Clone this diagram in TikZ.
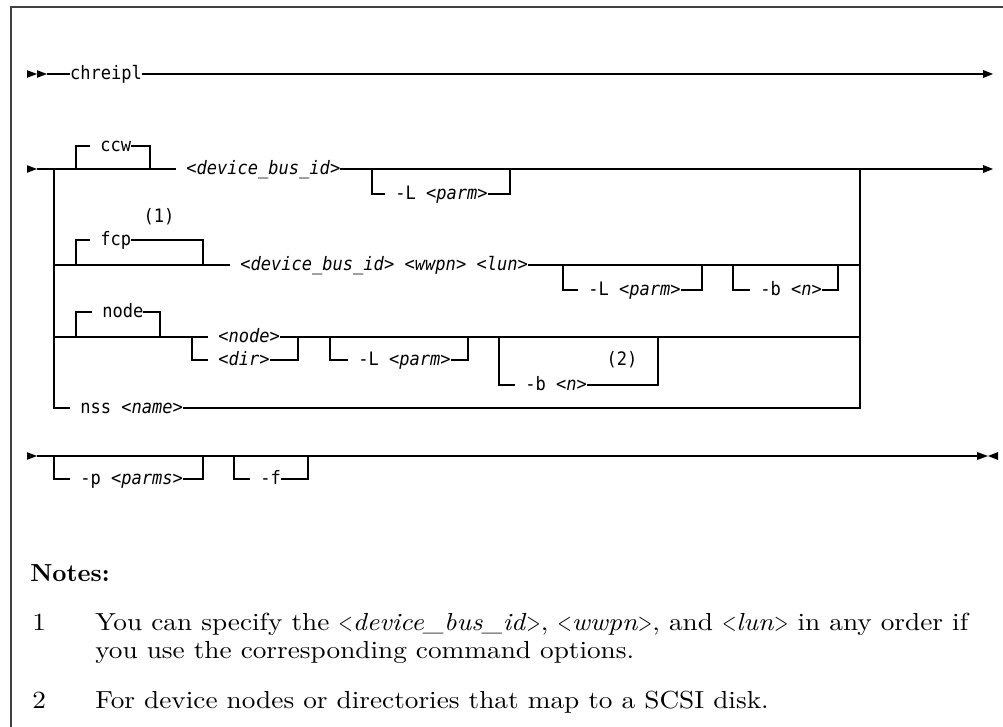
\documentclass[tikz,border=0pt]{standalone}
\usepackage{graphicx}
\usepackage{fontspec}
\newfontfamily\dgfont[FakeStretch=0.92]{DejaVu Sans Mono}
\newfontfamily\notefont[Extension=.otf, FakeStretch=1.105, ItalicFont=lmroman10-italic, BoldFont=lmroman10-bold]{lmroman10-regular}
\newfontfamily\notebf[Extension=.otf]{lmroman10-bold}
\newcommand\nlt{\scalebox{0.68}[1]{<}}
\newcommand\ngt{\scalebox{0.68}[1]{>}}
\begin{document}
\begin{tikzpicture}[x=0.75pt,y=-0.75pt,
  ln/.style={line width=1pt},
  frame/.style={line width=1.2pt,draw=black!75},
  dg/.style={font=\dgfont\fontsize{13.9pt}{16pt}\selectfont, inner sep=0pt, outer sep=0pt, text height=11pt, text depth=3pt, anchor=west},
  nt/.style={font=\notefont\fontsize{18.5pt}{22pt}\selectfont, inner sep=0pt, anchor=base west},
  ntb/.style={font=\notebf\fontsize{18.5pt}{22pt}\selectfont, inner sep=0pt, anchor=base west}]
\useasboundingbox (0,0) rectangle (1003,727);
\draw[frame] (11,727) -- (11,7) -- (1003,7);

% ---------- line 1
\fill (27,70.2) -- (37,74) -- (27,77.8) -- cycle;
\fill (37,70.2) -- (47,74) -- (37,77.8) -- cycle;
\node[dg] (chreipl) at (70,74) {chreipl};
\coordinate (e1) at (983,74);
\draw[ln] (47,74) -- (chreipl.west);
\draw[ln] (chreipl.east) -- (e1);
\fill (983,70) -- (993,74) -- (983,78) -- cycle;

% ---------- line 2 : ccw
\fill (27,165.2) -- (37,169) -- (27,172.8) -- cycle;
\node[dg] (dev1) at (176,169) {\ <\textit{device\_bus\_id}>};
\draw[ln] (37,169) -- (dev1.west);
\draw[ln] (dev1.east) -- (983,169);
\fill (983,165) -- (993,169) -- (983,173) -- cycle;
\node[dg] (ccw) at (90,146) {\ ccw};
\draw[ln] (76,169) -- (76,146) -- (ccw.west);
\draw[ln] (ccw.east) -- (150,146) -- (150,169);
\node[dg] (L1) at (385,194) {\ -L <\textit{parm}>};
\draw[ln] (372,169) -- (372,194) -- (L1.west);
\draw[ln] (L1.east) -- (510,194) -- (510,169);

% ---------- fcp
\node[dg,anchor=center] (n1) at (159,217) {(1)};
\node[dg] (fcp) at (90,240) {\ fcp};
\node[dg] (dev2) at (230,265) {\ <\textit{device\_bus\_id}> <\textit{wwpn}> <\textit{lun}>};
\draw[ln] (54,265) -- (dev2.west);
\draw[ln] (76,265) -- (76,240) -- (fcp.west);
\draw[ln] (fcp.east) -- (203,240) -- (203,265);
\draw[ln] (dev2.east) -- (860,265);
\node[dg] (L2) at (578,290) {\ -L <\textit{parm}>};
\draw[ln] (563,265) -- (563,290) -- (L2.west);
\draw[ln] (L2.east) -- (702,290) -- (702,265);
\node[dg] (b2) at (750,290) {\ -b <\textit{n}>};
\draw[ln] (733,265) -- (733,290) -- (b2.west);
\draw[ln] (b2.east) -- (838,290) -- (838,265);

% ---------- node
\node[dg] (nodekw) at (92,312) {\ node};
\node[dg] (nodeN) at (208,337) {\ <\textit{node}>};
\node[dg] (dir) at (208,360) {\ <\textit{dir}>};
\draw[ln] (54,337) -- (nodeN.west);
\draw[ln] (76,337) -- (76,312) -- (nodekw.west);
\draw[ln] (nodekw.east) -- (160,312) -- (160,337);
\draw[ln] (192,337) -- (192,360) -- (dir.west);
\draw[ln] (dir.east) -- (298,360) -- (298,337);
\draw[ln] (nodeN.east) -- (860,337);
\node[dg] (L3) at (348,360) {\ -L <\textit{parm}>};
\draw[ln] (330,337) -- (330,360) -- (L3.west);
\draw[ln] (L3.east) -- (468,360) -- (468,337);
\node[dg] (b3) at (515,385) {\ -b <\textit{n}>};
\node[dg,anchor=center] (n2) at (622,360) {(2)};
\draw[ln] (499,337) -- (499,385) -- (b3.west);
\draw[ln] (b3.east) -- (658,385) -- (658,337);

% ---------- nss and main verticals
\node[dg] (nss) at (70,408) {\ nss <\textit{name}>};
\draw[ln] (54,169) -- (54,408) -- (nss.west);
\draw[ln] (nss.east) -- (860,408) -- (860,169);

% ---------- line 3
\fill (27,452.2) -- (37,456) -- (27,459.8) -- cycle;
\draw[ln] (37,456) -- (977,456);
\fill (977,452) -- (988,456) -- (977,460) -- cycle;
\fill (998,452) -- (988,456) -- (998,460) -- cycle;
\node[dg] (p) at (70,479) {\ -p <\textit{parms}>};
\draw[ln] (54,456) -- (54,479) -- (p.west);
\draw[ln] (p.east) -- (203,479) -- (203,456);
\node[dg] (f) at (250,479) {\ -f\ };
\draw[ln] (234,456) -- (234,479) -- (f.west);
\draw[ln] (f.east) -- (308,479) -- (308,456);

% ---------- notes
\node[ntb] (notes) at (30,581) {Notes:};
\node[nt] (k1) at (32,630) {1};
\node[nt] (t1a) at (95,630) {You can specify the \nlt\textit{device\_bus\_id}\ngt, \nlt\textit{wwpn}\ngt, and \nlt\textit{lun}\ngt{} in any order if};
\node[nt] (t1b) at (95,658) {you use the corresponding command options.};
\node[nt] (k2) at (32,708) {2};
\node[nt] (t2) at (95,708) {For device nodes or directories that map to a SCSI disk.};
\end{tikzpicture}
\end{document}
